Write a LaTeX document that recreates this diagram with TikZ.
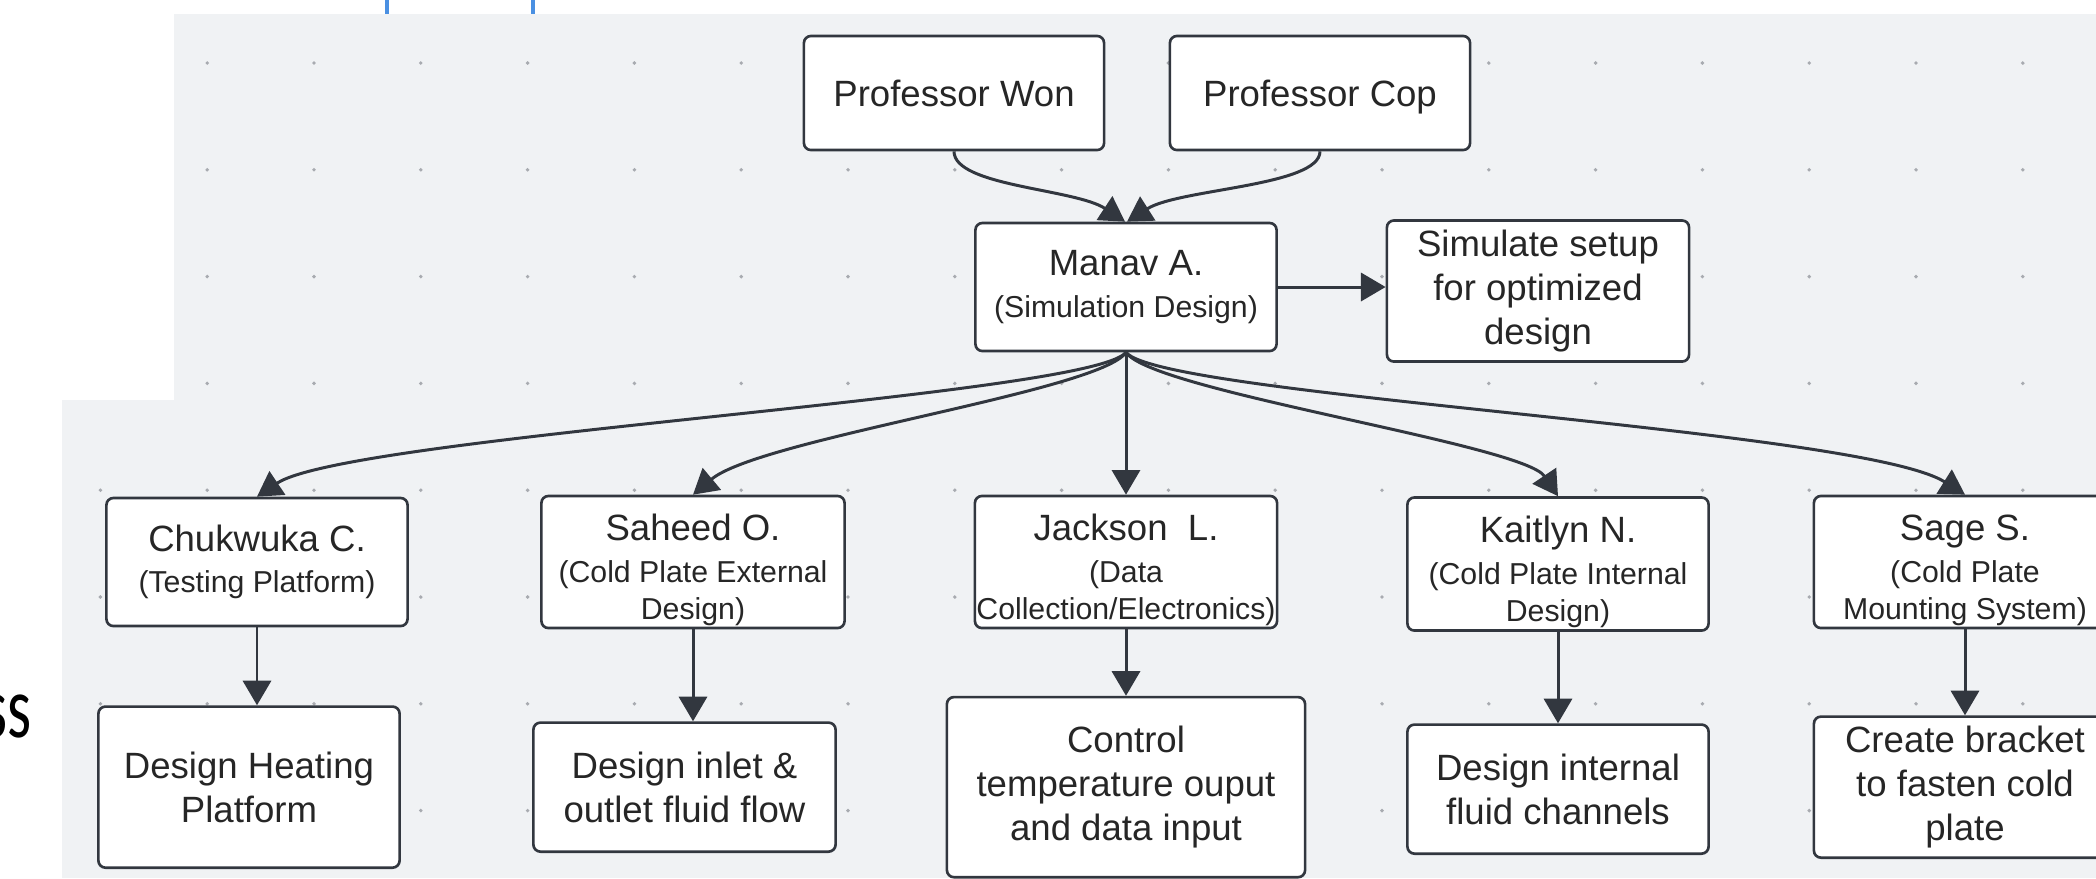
\documentclass[tikz,border=0pt]{standalone}
\usepackage{fontspec}
\setmainfont{Liberation Sans}
\newfontfamily\slidefont{Carlito}
\usetikzlibrary{arrows.meta}

\definecolor{canvasgray}{RGB}{240,242,244}
\definecolor{griddot}{RGB}{168,171,176}
\definecolor{boxline}{RGB}{50,55,63}
\definecolor{tabblue}{RGB}{74,144,226}

\newcommand{\roletext}[1]{{\fontsize{8.6}{10}\selectfont #1}}
\newcommand{\topstrut}{\rule{0pt}{12pt}}

\tikzstyle{member} = [
    rectangle,
    rounded corners=2pt,
    minimum width=3.01cm,
    minimum height=1.31cm,
    inner xsep=0pt,
    inner ysep=0.5pt,
    align=center,
    draw=boxline,
    line width=0.75pt,
    fill=white,
    text=black!85,
    font=\fontsize{10.4}{11.8}\selectfont
]
\tikzstyle{task} = [
    member,
    minimum height=1.29cm,
    font=\fontsize{10.4}{12.4}\selectfont
]
\tikzstyle{arrow} = [line width=0.85pt, draw=boxline, -{Triangle[length=7pt,width=8pt]}]

\begin{document}
\begin{tikzpicture}[node distance=2.25cm, x=0.01cm, y=-0.01cm]

\useasboundingbox (0,0) rectangle (2096,878);
\fill [white] (0,0) rectangle (2096,878);
\fill [canvasgray] (174,14) rectangle (2096,878);
\fill [canvasgray] (62,400) rectangle (174,878);
\fill [tabblue] (385,0) rectangle (389,14);
\fill [tabblue] (531,0) rectangle (535,14);

\foreach \j in {0,...,3}
    \foreach \k in {1,...,18}
        \fill [griddot] (100.4+106.8*\k, 63+106.8*\j) circle (0.55pt);
\foreach \j in {4,...,7}
    \foreach \k in {0,...,18}
        \fill [griddot] (100.4+106.8*\k, 63+106.8*\j) circle (0.55pt);

\node (slidetext) [anchor=base east, inner sep=0pt, font=\slidefont\fontsize{25}{30}\selectfont] at (32,737)
{\scalebox{0.7}[1]{ss}};

\node (won) [member, minimum width=3cm, minimum height=1.14cm, text depth=0pt] at (954,93)
{Professor Won};

\node (cop) [member, minimum width=3cm, minimum height=1.14cm, text depth=0pt] at (1320,93)
{Professor Cop};

\node (manav) [member, minimum height=1.28cm] at (1126,287)
{Manav A.\\\roletext{(Simulation Design)}};

\node (simulate) [task, minimum width=3.02cm, minimum height=1.41cm] at (1538,291)
{Simulate setup\\for optimized\\design};

\node (chuk) [member, minimum height=1.28cm] at (257,562)
{Chukwuka C.\\\roletext{(Testing Platform)}};

\node (saheed) [member, minimum width=3.03cm, minimum height=1.32cm] at (693,562)
{\topstrut Saheed O.\\\roletext{(Cold Plate External}\\[-1.3pt]\roletext{Design)}};

\node (jackson) [member, minimum width=3.02cm, minimum height=1.32cm] at (1126,562)
{\topstrut Jackson\ \ L.\\\roletext{(Data}\\[-1.3pt]\roletext{Collection/Electronics)}};

\node (kaitlyn) [member, minimum height=1.33cm] at (1558,564)
{\topstrut Kaitlyn N.\\\roletext{(Cold Plate Internal}\\[-1.3pt]\roletext{Design)}};

\node (sage) [member, minimum width=3.02cm, minimum height=1.32cm] at (1965,562)
{\topstrut Sage S.\\\roletext{(Cold Plate}\\[-1.3pt]\roletext{Mounting System)}};

\node (heating) [task, below of=chuk, xshift=-0.08cm, minimum height=1.61cm]
{Design Heating\\Platform};

\node (inlet) [task, below of=saheed, xshift=-0.085cm, minimum width=3.02cm]
{Design inlet \&\\outlet fluid flow};

\node (control) [task, below of=jackson, minimum width=3.58cm, minimum height=1.8cm]
{Control\\temperature ouput\\and data input};

\node (internal) [task, below of=kaitlyn]
{Design internal\\fluid channels};

\node (bracket) [task, below of=sage, minimum width=3.02cm, minimum height=1.41cm]
{Create bracket\\to fasten cold\\plate};

\draw [arrow] (won.south) .. controls +(0,35) and +(-50,-33) .. ([xshift=-0.01cm]manav.north);
\draw [arrow] (cop.south) .. controls +(0,35) and +(52,-33) .. ([xshift=0.01cm]manav.north);
\draw [arrow] (manav.east) -- (manav.east -| simulate.west);
\draw [arrow] (manav.south) .. controls +(-36,44) and +(91,-61) .. (chuk.north);
\draw [arrow] (manav.south) .. controls +(-26,39) and +(67,-56) .. (saheed.north);
\draw [arrow] (manav.south) -- (jackson.north);
\draw [arrow] (manav.south) .. controls +(26,39) and +(-35,-52) .. (kaitlyn.north);
\draw [arrow] (manav.south) .. controls +(36,44) and +(-105,-66) .. (sage.north);
\draw [arrow] (chuk.south) -- (chuk.south |- heating.north);
\draw [arrow] (saheed.south) -- (saheed.south |- inlet.north);
\draw [arrow] (jackson.south) -- (control.north);
\draw [arrow] (kaitlyn.south) -- (internal.north);
\draw [arrow] (sage.south) -- (bracket.north);

\end{tikzpicture}
\end{document}
